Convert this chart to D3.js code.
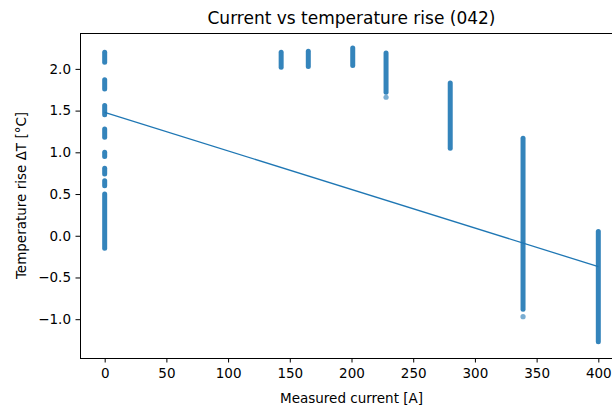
<!DOCTYPE html>
<html>
<head>
<meta charset="utf-8">
<script src="https://cdn.jsdelivr.net/npm/d3@7"></script>
<style>
  body { margin: 0; background: #fff; }
  text { font-family: "DejaVu Sans", sans-serif; fill: #000; }
</style>
</head>
<body>
<script>
// Measured currents where readings were taken, and the spread of ΔT seen at each one
// (each entry = a run of overlapping scatter points, low..high)
var currents = [0, 0, 0, 0, 0, 0, 0, 0, 143, 165, 201, 228, 280, 339, 400];
var riseLow  = [2.08, 1.76, 1.45, 1.18, 0.95, 0.74, 0.60, -0.15, 2.02, 2.03, 2.04, 1.72, 1.05, -0.88, -1.27];
var riseHigh = [2.20, 1.87, 1.56, 1.28, 1.00, 0.81, 0.66, 0.50, 2.20, 2.21, 2.25, 2.19, 1.83, 1.17, 0.05];

// stray single points
var strayCurrent = [228, 339];
var strayRise = [1.66, -0.97];

// linear fit drawn over the data
var fitCurrent = [0, 400];
var fitRise = [1.48, -0.37];

var xTicks = [0, 50, 100, 150, 200, 250, 300, 350, 400];
var yTicks = [-1.0, -0.5, 0.0, 0.5, 1.0, 1.5, 2.0];

var width = 612, height = 407;
var plot = { left: 80, right: 623, top: 33, bottom: 358 };
var blue = "#1f77b4";

var svg = d3.select("body").append("svg")
    .attr("width", width)
    .attr("height", height);

var x = d3.scaleLinear().domain([-20, 420]).range([plot.left, plot.right]);
var y = d3.scaleLinear().domain([-1.465, 2.43]).range([plot.bottom, plot.top]);

// columns of points
var cols = currents.map(function(c, i) { return { c: c, lo: riseLow[i], hi: riseHigh[i] }; });
svg.append("g").selectAll("line")
  .data(cols)
  .enter()
  .append("line")
  .attr("x1", function(d) { return x(d.c); })
  .attr("x2", function(d) { return x(d.c); })
  .attr("y1", function(d) { return y(d.lo); })
  .attr("y2", function(d) { return y(d.hi); })
  .attr("stroke", blue)
  .attr("stroke-width", 5)
  .attr("stroke-linecap", "round")
  .attr("opacity", 0.9);

svg.append("g").selectAll("circle")
  .data(strayCurrent)
  .enter()
  .append("circle")
  .attr("cx", function(d) { return x(d); })
  .attr("cy", function(d, i) { return y(strayRise[i]); })
  .attr("r", 2.6)
  .attr("fill", blue)
  .attr("opacity", 0.6);

// fit line
var line = d3.line()
  .x(function(d) { return x(d); })
  .y(function(d, i) { return y(fitRise[i]); });
svg.append("path")
  .attr("d", line(fitCurrent))
  .attr("fill", "none")
  .attr("stroke", blue)
  .attr("stroke-width", 1.3);

// axes
var fmt = d3.format(".1f");
var xAxis = svg.append("g")
  .attr("transform", "translate(0," + plot.bottom + ")")
  .call(d3.axisBottom(x).tickValues(xTicks).tickSize(4.5).tickPadding(6));
var yAxis = svg.append("g")
  .attr("transform", "translate(" + plot.left + ",0)")
  .call(d3.axisLeft(y).tickValues(yTicks).tickFormat(fmt).tickSize(4.5).tickPadding(4.5));

[xAxis, yAxis].forEach(function(a) {
  a.select(".domain").remove();
  a.selectAll("line").attr("stroke", "#000").attr("stroke-width", 1);
  a.selectAll("text").attr("font-size", "13.5px").attr("font-family", "DejaVu Sans").attr("fill", "#000");
});

// spines (box; right one falls off the picture)
svg.append("rect")
  .attr("x", plot.left + 0.5)
  .attr("y", plot.top + 0.5)
  .attr("width", plot.right - plot.left)
  .attr("height", plot.bottom - plot.top)
  .attr("fill", "none")
  .attr("stroke", "#000")
  .attr("stroke-width", 1);

// labels
svg.append("text")
  .attr("x", (plot.left + plot.right) / 2)
  .attr("y", 24)
  .attr("text-anchor", "middle")
  .attr("font-size", "17px")
  .text("Current vs temperature rise (042)");

svg.append("text")
  .attr("x", (plot.left + plot.right) / 2)
  .attr("y", 403)
  .attr("text-anchor", "middle")
  .attr("font-size", "13.5px")
  .text("Measured current [A]");

svg.append("text")
  .attr("transform", "translate(26," + ((plot.top + plot.bottom) / 2) + ") rotate(-90)")
  .attr("text-anchor", "middle")
  .attr("font-size", "13.5px")
  .text("Temperature rise ΔT [°C]");
</script>
</body>
</html>
